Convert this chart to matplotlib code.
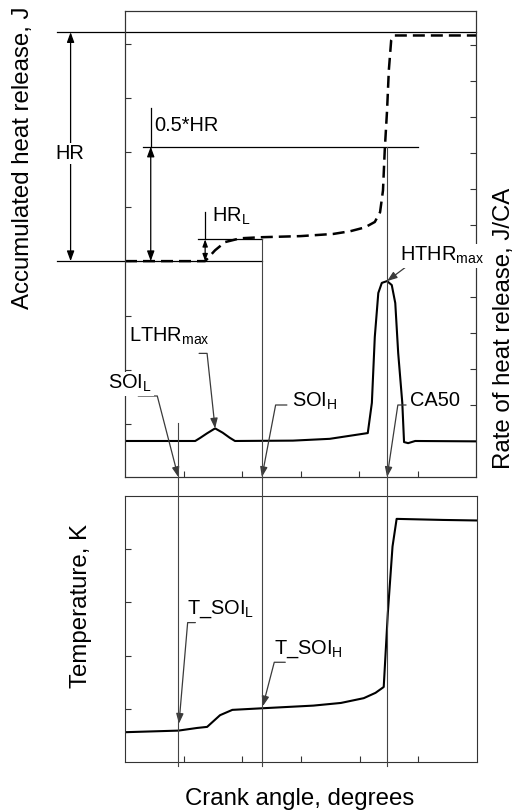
import numpy as np
import matplotlib.pyplot as plt
from matplotlib.lines import Line2D
from matplotlib.transforms import blended_transform_factory

plt.rcParams['font.family'] = ['Liberation Sans', 'DejaVu Sans']
plt.rcParams['mathtext.fontset'] = 'custom'
plt.rcParams['mathtext.rm'] = 'Liberation Sans'

# accumulated heat release, J
ca_acc = [-30, -16.3, -14.6, -12.9, -10.3, -6.6, 0.0, 5.6, 8.5, 11.0, 12.7,
          13.6, 14.1, 14.4, 14.8, 15.1, 15.5, 16.0, 30]
heat_acc = [0, 0, 20, 35, 42, 44, 46, 50, 55, 62, 72,
            90, 130, 204, 278, 351, 406, 415, 415]

# rate of heat release, J/CA
ca_hrr = [-30, -18.0, -17.2, -16.0, -14.6, -13.3, -12.1, -11.2, -1.3, 5.0,
          11.5, 12.2, 12.7, 13.3, 13.9, 14.8, 15.6, 16.2, 16.7, 17.4, 17.7,
          18.4, 19.6, 30]
hrr = [0, 0, 0.8, 2.1, 3.5, 2.3, 0.9, 0, 0.1, 0.6,
       2.2, 10.6, 28.9, 41.1, 43.9, 44.4, 43.3, 38.3, 24.4, 10.6, -0.3,
       -0.6, 0, -0.1]

# in-cylinder temperature, K
ca_temp = [-30, -20.9, -17.7, -16.0, -13.8, -11.7, -6.6, 2.1, 6.8, 10.7,
           12.7, 14.1, 14.8, 15.6, 16.3, 24.2, 30]
temp = [512, 518, 528, 532, 576, 596, 602, 612, 622, 640,
        660, 682, 960, 1210, 1314, 1310, 1308]

# combustion events
soi_l = -20.9
soi_h = -6.6
ca50 = 14.8
hr_total = 421
hr_low = 40

LABEL_FS = 17.3
NOTE_FS = 14.4
ARROW_C = '#3a3a3a'
LINE_C = '#444444'
WHITE = dict(fc='white', ec='none', pad=1)


def style_axes(ax):
    for s in ax.spines.values():
        s.set_color('#333333')
        s.set_linewidth(0.8)
    ax.tick_params(direction='in', length=4.3, width=0.8, color='#333333',
                   labelleft=False, labelright=False, labelbottom=False,
                   labeltop=False, top=False)


def callout(ax, label, tip, tail, text_at, elbow=None, coords='data',
            shrink=0, boxed=False):
    # arrow runs from a short horizontal tail, bends at the elbow, ends at the tip
    if elbow is None:
        conn = 'arc3'
    else:
        ang = np.degrees(np.arctan2(elbow[1], elbow[0]))
        conn = f'angle,angleA=0,angleB={ang:.1f},rad=0'
    ax.annotate('', xy=tip, xycoords=coords, xytext=tail,
                textcoords='offset pixels', annotation_clip=False,
                arrowprops=dict(arrowstyle='-|>,head_length=0.6,head_width=0.22',
                                color=ARROW_C, lw=0.9, mutation_scale=10,
                                shrinkA=0, shrinkB=shrink, connectionstyle=conn))
    ax.annotate(label, xy=tip, xycoords=coords, xytext=text_at,
                textcoords='offset pixels', ha='left', va='baseline',
                fontsize=NOTE_FS, annotation_clip=False,
                bbox=WHITE if boxed else None)


def span_arrow(ax, x, y0, y1, scale=10):
    ax.annotate('', xy=(x, y0), xytext=(x, y1), annotation_clip=False,
                arrowprops=dict(arrowstyle='<|-|>,head_length=0.6,head_width=0.22',
                                color='black', lw=0.9, mutation_scale=scale,
                                shrinkA=0, shrinkB=0))


fig = plt.figure(figsize=(5.14, 8.11), dpi=100)
ax_acc = fig.add_axes([125 / 514, 1 - 477 / 811, 351 / 514, 466 / 811])
ax_hrr = ax_acc.twinx()
ax_temp = fig.add_axes([125 / 514, 1 - 762 / 811, 352 / 514, 266 / 811])

# top panel: accumulated heat (dashed) and heat release rate (solid)
ax_acc.plot(ca_acc, heat_acc, color='black', lw=1.8, dashes=(4.8, 2.4))
ax_hrr.plot(ca_hrr, hrr, color='black', lw=1.5)

ax_acc.set_xlim(-30, 30)
ax_acc.set_ylim(-397, 460)
ax_acc.set_xticks(np.arange(-20, 21, 10))
ax_acc.set_yticks(np.arange(-300, 401, 100))
ax_hrr.set_ylim(-10, 119.4)
ax_hrr.set_yticks(np.arange(0, 111, 10))
style_axes(ax_acc)
style_axes(ax_hrr)
ax_acc.tick_params(axis='y', left=True, right=False)
ax_hrr.tick_params(axis='y', left=False, right=True)

# HR, 0.5*HR and HR_L guides
ax_acc.plot([-41.6, 30], [hr_total] * 2, color='black', lw=0.9, clip_on=False)
ax_acc.plot([-41.6, soi_h], [0, 0], color='black', lw=0.9, clip_on=False)
ax_acc.plot([-26.9, 20.1], [hr_total / 2] * 2, color='black', lw=0.9)
ax_acc.plot([-17.5, soi_h], [hr_low] * 2, color='black', lw=0.9)
ax_acc.plot([-25.6, -25.6], [hr_total / 2, 281], color='black', lw=0.9)
ax_acc.plot([-16.3, -16.3], [hr_low, 90], color='black', lw=0.9)

span_arrow(ax_acc, -39.3, 0, hr_total)
span_arrow(ax_acc, -25.6, 0, hr_total / 2)
span_arrow(ax_acc, -16.3, 0, hr_low, scale=7)

ax_acc.text(-39.4, hr_total * 0.47, 'HR', ha='center', va='center',
            fontsize=NOTE_FS, bbox=WHITE, clip_on=False)
ax_acc.text(-25.0, 239, '0.5*HR', ha='left', va='baseline', fontsize=NOTE_FS)
ax_acc.text(-15.1, 73, 'HR$_\\mathregular{L}$', ha='left', va='baseline',
            fontsize=NOTE_FS)

i_lt = int(np.argmax(np.where(np.array(ca_hrr) < 0, hrr, -np.inf)))
i_ht = int(np.argmax(hrr))
bottom = ('data', 'axes fraction')

callout(ax_hrr, 'SOI$_\\mathregular{L}$', (soi_l, 0), (-40, 81), (-70, 88),
        elbow=(-21, 81), coords=bottom, boxed=True)
callout(ax_hrr, 'LTHR$_\\mathregular{max}$', (ca_hrr[i_lt], hrr[i_lt]),
        (-16, 75), (-86, 87), elbow=(-8, 75))
callout(ax_hrr, 'SOI$_\\mathregular{H}$', (soi_h, 0), (25, 72), (30, 70),
        elbow=(13.7, 72), coords=bottom)
callout(ax_hrr, 'CA50', (ca50, 0), (19, 72), (23, 71),
        elbow=(10.7, 72), coords=bottom, boxed=True)
callout(ax_hrr, 'HTHR$_\\mathregular{max}$', (ca_hrr[i_ht], hrr[i_ht]),
        (20, 15), (13, 20), boxed=True)

# bottom panel: temperature
ax_temp.plot(ca_temp, temp, color='black', lw=1.5)
ax_temp.set_xlim(-30, 30)
ax_temp.set_ylim(400, 1400)
ax_temp.set_xticks(np.arange(-20, 21, 10))
ax_temp.set_yticks(np.arange(600, 1201, 200))
style_axes(ax_temp)
ax_temp.tick_params(axis='y', right=False)

callout(ax_temp, 'T_SOI$_\\mathregular{L}$', (soi_l, np.interp(soi_l, ca_temp, temp)),
        (17, 108), (9, 117), elbow=(9.3, 108), shrink=5)
callout(ax_temp, 'T_SOI$_\\mathregular{H}$', (soi_h, np.interp(soi_h, ca_temp, temp)),
        (23, 46), (12, 55), elbow=(12, 46), shrink=1.5)

# event lines running through both panels: x in data, y in figure fraction
to_fig = fig.transFigure.inverted()
event_tf = blended_transform_factory(ax_acc.transData, fig.transFigure)
y_end = to_fig.transform(ax_temp.transData.transform((0, 385)))[1]
for x, ax_from, y_from in [(soi_l, ax_hrr, 5), (soi_h, ax_acc, hr_low),
                           (ca50, ax_acc, hr_total / 2)]:
    y_start = to_fig.transform(ax_from.transData.transform((0, y_from)))[1]
    fig.add_artist(Line2D([x, x], [y_start, y_end], transform=event_tf,
                          color=LINE_C, lw=0.8))

fig.text(23.5 / 514, 1 - 158 / 811, 'Accumulated heat release, J', rotation=90,
         ha='center', va='center', fontsize=LABEL_FS)
fig.text(504 / 514, 1 - 328.5 / 811, 'Rate of heat release, J/CA', rotation=90,
         ha='center', va='center', fontsize=LABEL_FS)
fig.text(81.5 / 514, 1 - 606 / 811, 'Temperature, K', rotation=90,
         ha='center', va='center', fontsize=LABEL_FS)
fig.text(299.3 / 514, 1 - 805 / 811, 'Crank angle, degrees', ha='center',
         va='baseline', fontsize=LABEL_FS)

fig.savefig('out.png', dpi=100)
